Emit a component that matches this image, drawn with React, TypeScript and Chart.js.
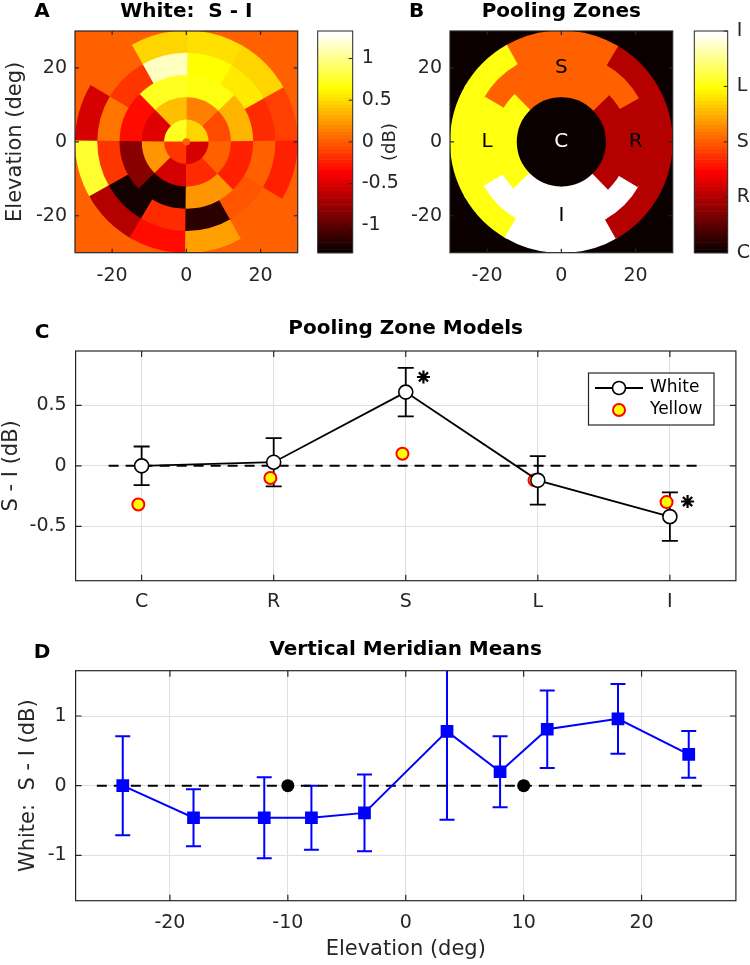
import React, { useEffect, useRef } from 'react';
import { Chart, registerables } from 'chart.js';

Chart.register(...registerables);

// ================= DATA =================
// Panel A: White S - I (dB) on a polar grid. Rings from centre outward,
// sectors counter-clockwise starting at +x (right).
const ringEdgesDeg = [0, 1, 6, 12, 18, 24, 30];
const whiteRing0 = [0.03];
const whiteRing1 = [0.47, 0.73, -0.13, -0.53];
const whiteRing2 = [-0.07, 0.13, 0.4, -0.46, 0.21, -0.5, -0.2, 0.0];
const whiteRing3 = [0.35, 0.7, 0.73, -0.33, -0.8, -1.27, 0.21, -0.23];
const whiteRing4 = [-0.2, 0.56, 0.66, 1.13, -0.13, 0.09, -0.13, -1.27, -0.2, -1.2, -0.02, 0.0];
const whiteRing5 = [-0.12, 0.47, 0.54, 0.49, 0.04, -0.53, 0.75, -0.66, -0.3, 0.29, 0.01, -0.22];
const whiteRings = [whiteRing0, whiteRing1, whiteRing2, whiteRing3, whiteRing4, whiteRing5];
const colorLimitsA = [-1.33, 1.33];
const colorbarTicksA = [-1, -0.5, 0, 0.5, 1];
const fieldTicks = [-20, 0, 20];
const fieldLimits = [-30, 30];

// Panel B: pooling zones (1=C, 2=R, 3=S, 4=L, 5=I)
const zoneNames = ['C', 'R', 'S', 'L', 'I'];
const zoneRing0 = [1];
const zoneRing1 = [1, 1, 1, 1];
const zoneRing2 = [1, 1, 1, 1, 1, 1, 1, 1];
const zoneRing3 = [2, 3, 3, 4, 4, 5, 5, 2];
const zoneRing4 = [2, 3, 3, 3, 3, 4, 4, 5, 5, 5, 5, 2];
const zoneRing5 = [2, 2, 3, 3, 4, 4, 4, 4, 5, 5, 2, 2];
const zoneRings = [zoneRing0, zoneRing1, zoneRing2, zoneRing3, zoneRing4, zoneRing5];
const zoneLabelX = [0, 20, 0, -20, 0];
const zoneLabelY = [0, 0, 20, 0, -20];
const zoneTicks = [1, 2, 3, 4, 5];

// Panel C: pooling zone models
const poolCategories = ['C', 'R', 'S', 'L', 'I'];
const whiteMeans = [0.0, 0.03, 0.61, -0.12, -0.42];
const whiteErrors = [0.16, 0.2, 0.2, 0.2, 0.2];
const yellowMeans = [-0.32, -0.1, 0.1, -0.12, -0.3];
const yellowXShift = -0.025;
const significantIdx = [2, 4];
const poolYTicks = [-0.5, 0, 0.5];
const poolYLimits = [-0.95, 0.95];
const poolZeroLine = [0.75, 5.25];

// Panel D: vertical meridian means
const meridianElev = [-24, -18, -12, -8, -3.5, 3.5, 8, 12, 18, 24];
const meridianMeans = [0.0, -0.46, -0.46, -0.46, -0.39, 0.78, 0.2, 0.81, 0.96, 0.45];
const meridianErrors = [0.71, 0.41, 0.58, 0.46, 0.55, 1.27, 0.51, 0.555, 0.5, 0.335];
const referenceElev = [-10, 10];
const referenceVal = [0, 0];
const elevTicks = [-20, -10, 0, 10, 20];
const meridianYTicks = [-1, 0, 1];
const elevLimits = [-28, 28];
const meridianYLimits = [-1.65, 1.65];
const meridianZeroLine = [-26.2, 25.6];

// ================= HELPERS =================
const FONT = "'DejaVu Sans', 'Liberation Sans', Arial, sans-serif";
const INK = '#262626';
const GRID = '#dfdfdf';

function hotColor(t: number): string {
  const m = 64, n = 24;
  let i = Math.floor(t * m) + 1;
  if (i < 1) i = 1;
  if (i > m) i = m;
  const r = i <= n ? i / n : 1;
  const g = i <= n ? 0 : i <= 2 * n ? (i - n) / n : 1;
  const b = i <= 2 * n ? 0 : (i - 2 * n) / (m - 2 * n);
  return `rgb(${Math.round(r * 255)},${Math.round(g * 255)},${Math.round(b * 255)})`;
}
const mapColor = (v: number, lo: number, hi: number) => hotColor((v - lo) / (hi - lo));

const setTicks = (vals: number[]) => (s: any) => {
  s.ticks = vals.map((v) => ({ value: v }));
};

type TextItem = {
  text: string; x: number; y: number; size: number; bold?: boolean;
  color?: string; rot?: number; align?: CanvasTextAlign;
};
function textsPlugin(items: TextItem[]) {
  return {
    id: 'texts',
    afterDraw(chart: any) {
      const ctx = chart.ctx;
      for (const t of items) {
        ctx.save();
        ctx.translate(t.x, t.y);
        if (t.rot) ctx.rotate(t.rot);
        ctx.font = `${t.bold ? 'bold ' : ''}${t.size}px ${FONT}`;
        ctx.fillStyle = t.color || '#000';
        ctx.textAlign = t.align || 'center';
        ctx.textBaseline = 'middle';
        ctx.fillText(t.text, 0, 0);
        ctx.restore();
      }
    },
  };
}

function framePlugin(xt: number[], yt: number[], len: number, sides = { left: true, right: true, top: true, bottom: true }, lw = 1.2) {
  return {
    id: 'frame',
    afterDraw(chart: any) {
      const { ctx, chartArea: a, scales } = chart;
      ctx.save();
      ctx.strokeStyle = INK;
      ctx.lineWidth = lw;
      ctx.beginPath();
      for (const v of xt) {
        const p = scales.x.getPixelForValue(v);
        if (sides.bottom) { ctx.moveTo(p, a.bottom); ctx.lineTo(p, a.bottom - len); }
        if (sides.top) { ctx.moveTo(p, a.top); ctx.lineTo(p, a.top + len); }
      }
      for (const v of yt) {
        const p = scales.y.getPixelForValue(v);
        if (sides.left) { ctx.moveTo(a.left, p); ctx.lineTo(a.left + len, p); }
        if (sides.right) { ctx.moveTo(a.right, p); ctx.lineTo(a.right - len, p); }
      }
      ctx.stroke();
      ctx.strokeRect(a.left, a.top, a.right - a.left, a.bottom - a.top);
      ctx.restore();
    },
  };
}

// Polar cells: painted from the outermost ring inward as overlapping pie wedges,
// so that neighbouring cells leave no anti-aliasing seams.
function polarPlugin(rings: number[][], colorOf: (v: number) => string, bg: string) {
  return {
    id: 'polarCells',
    beforeDatasetsDraw(chart: any) {
      const { ctx, chartArea: a, scales: { x, y } } = chart;
      ctx.save();
      ctx.beginPath();
      ctx.rect(a.left, a.top, a.right - a.left, a.bottom - a.top);
      ctx.clip();
      ctx.fillStyle = bg;
      ctx.fillRect(a.left, a.top, a.right - a.left, a.bottom - a.top);
      const cx = x.getPixelForValue(0);
      const cy = y.getPixelForValue(0);
      const eps = 0.012;
      for (let k = rings.length - 1; k >= 0; k--) {
        const vals = rings[k];
        const r1 = x.getPixelForValue(ringEdgesDeg[k + 1]) - cx;
        const n = vals.length;
        vals.forEach((v, j) => {
          ctx.beginPath();
          if (n === 1) {
            ctx.arc(cx, cy, r1, 0, Math.PI * 2);
          } else {
            const a0 = (j * 2 * Math.PI) / n - eps;
            const a1 = ((j + 1) * 2 * Math.PI) / n + eps;
            ctx.moveTo(cx, cy);
            ctx.arc(cx, cy, r1, -a0, -a1, true);
            ctx.closePath();
          }
          ctx.fillStyle = colorOf(v);
          ctx.fill();
        });
      }
      ctx.restore();
    },
  };
}

function colorbarPlugin(lo: number, hi: number) {
  return {
    id: 'colorbar',
    beforeDatasetsDraw(chart: any) {
      const { ctx, chartArea: a, scales: { y } } = chart;
      ctx.save();
      for (let i = 0; i < 64; i++) {
        const v0 = lo + ((hi - lo) * i) / 64;
        const v1 = lo + ((hi - lo) * (i + 1)) / 64;
        const p0 = y.getPixelForValue(v0);
        const p1 = y.getPixelForValue(v1);
        ctx.fillStyle = hotColor((i + 0.5) / 64);
        ctx.fillRect(a.left, p1, a.right - a.left, p0 - p1 + 0.6);
      }
      ctx.restore();
    },
  };
}

function errorBarPlugin(xs: number[], ys: number[], errs: number[], color: string, cap: number, lw: number) {
  return {
    id: 'errorBars',
    beforeDatasetsDraw(chart: any) {
      const { ctx, chartArea: a, scales: { x, y } } = chart;
      ctx.save();
      ctx.beginPath();
      ctx.rect(a.left, a.top, a.right - a.left, a.bottom - a.top);
      ctx.clip();
      ctx.strokeStyle = color;
      ctx.lineWidth = lw;
      ctx.beginPath();
      xs.forEach((xv, i) => {
        const px = x.getPixelForValue(xv);
        const top = y.getPixelForValue(ys[i] + errs[i]);
        const bot = y.getPixelForValue(ys[i] - errs[i]);
        ctx.moveTo(px, top); ctx.lineTo(px, bot);
        ctx.moveTo(px - cap, top); ctx.lineTo(px + cap, top);
        ctx.moveTo(px - cap, bot); ctx.lineTo(px + cap, bot);
      });
      ctx.stroke();
      ctx.restore();
    },
  };
}

type Area = { left: number; top: number; right: number; bottom: number };

function axisFont(size: number, lineHeight = 1.2) {
  return { family: FONT, size, lineHeight };
}

const noGrid = { display: false, drawTicks: false };

function baseOptions(W: number, H: number, area: Area) {
  return {
    responsive: false,
    animation: false,
    events: [],
    layout: { autoPadding: false, padding: { left: 0, top: area.top, right: W - area.right, bottom: 0 } },
    plugins: { legend: { display: false }, title: { display: false }, tooltip: { enabled: false } },
  };
}

function fieldConfig(W: number, H: number, area: Area, rings: number[][], colorOf: (v: number) => string, bg: string, yTitle: string | null, extra: any[]) {
  return {
    type: 'scatter',
    data: { datasets: [] },
    options: {
      ...baseOptions(W, H, area),
      scales: {
        x: {
          type: 'linear', min: fieldLimits[0], max: fieldLimits[1],
          afterBuildTicks: setTicks(fieldTicks),
          afterFit: (s: any) => { s.height = H - area.bottom; },
          grid: noGrid, border: { display: false },
          ticks: { font: axisFont(19), color: INK, padding: 11.5, maxRotation: 0, autoSkip: false, callback: (v: any) => String(v) },
        },
        y: {
          type: 'linear', min: fieldLimits[0], max: fieldLimits[1],
          afterBuildTicks: setTicks(fieldTicks),
          afterFit: (s: any) => { s.width = area.left; },
          grid: noGrid, border: { display: false },
          ticks: { font: axisFont(19), color: INK, padding: 8, autoSkip: false, callback: (v: any) => String(v) },
          title: yTitle
            ? { display: true, text: yTitle, font: axisFont(21), color: INK, padding: { top: 3, bottom: 0 } }
            : { display: false },
        },
      },
    },
    plugins: [polarPlugin(rings, colorOf, bg), framePlugin(fieldTicks, fieldTicks, 4), ...extra],
  };
}

function colorbarConfig(W: number, H: number, area: Area, lo: number, hi: number, ticks: number[], fmt: (v: number) => string, pad: number, extra: any[]) {
  return {
    type: 'scatter',
    data: { datasets: [] },
    options: {
      responsive: false,
      animation: false,
      events: [],
      layout: { autoPadding: false, padding: { left: area.left, top: area.top, right: 0, bottom: H - area.bottom } },
      plugins: { legend: { display: false }, tooltip: { enabled: false } },
      scales: {
        x: { type: 'linear', display: false, min: 0, max: 1 },
        y: {
          type: 'linear', position: 'right', min: lo, max: hi,
          afterBuildTicks: setTicks(ticks),
          afterFit: (s: any) => { s.width = W - area.right; },
          grid: noGrid, border: { display: false },
          ticks: { font: axisFont(19), color: INK, padding: pad, autoSkip: false, callback: (v: any) => fmt(v) },
        },
      },
    },
    plugins: [colorbarPlugin(lo, hi), framePlugin([], ticks, 4, { left: false, right: true, top: false, bottom: false }, 1), ...extra],
  };
}

// ================= PANELS =================
const areaA: Area = { left: 75, top: 31, right: 297.7, bottom: 252.7 };
function buildA(W: number, H: number) {
  return fieldConfig(
    W, H, areaA, whiteRings,
    (v) => mapColor(v, colorLimitsA[0], colorLimitsA[1]),
    mapColor(0, colorLimitsA[0], colorLimitsA[1]),
    'Elevation (deg)',
    [textsPlugin([
      { text: 'A', x: 42, y: 12, size: 20, bold: true },
      { text: 'White:  S - I', x: 186.3, y: 12, size: 20, bold: true },
    ])],
  );
}

const areaCbarA: Area = { left: 17.7, top: 31, right: 52.7, bottom: 252.7 };
function buildCbarA(W: number, H: number) {
  return colorbarConfig(
    W, H, areaCbarA, colorLimitsA[0], colorLimitsA[1], colorbarTicksA, (v) => String(v), 9,
    [textsPlugin([{ text: '(dB)', x: 90, y: 142, size: 18, rot: -Math.PI / 2, color: INK }])],
  );
}

const zoneLabelPlugin = {
  id: 'zoneLabels',
  afterDatasetsDraw(chart: any) {
    const { ctx, scales: { x, y } } = chart;
    ctx.save();
    ctx.font = `20px ${FONT}`;
    ctx.textAlign = 'center';
    ctx.textBaseline = 'middle';
    zoneNames.forEach((name, i) => {
      ctx.fillStyle = name === 'C' ? '#ffffff' : '#000000';
      ctx.fillText(name, x.getPixelForValue(zoneLabelX[i]), y.getPixelForValue(zoneLabelY[i]));
    });
    ctx.restore();
  },
};

const areaB: Area = { left: 75, top: 31, right: 297.7, bottom: 252.7 };
function buildB(W: number, H: number) {
  return fieldConfig(
    W, H, areaB, zoneRings,
    (v) => mapColor(v, 1, 5),
    mapColor(1, 1, 5),
    null,
    [zoneLabelPlugin, textsPlugin([
      { text: 'B', x: 41.7, y: 12, size: 20, bold: true },
      { text: 'Pooling Zones', x: 186.3, y: 12, size: 20, bold: true },
    ])],
  );
}

const areaCbarB: Area = { left: 19.3, top: 31, right: 52.7, bottom: 252.7 };
function buildCbarB(W: number, H: number) {
  return colorbarConfig(W, H, areaCbarB, 1, 5, zoneTicks, (v) => zoneNames[Math.round(v) - 1], 9, []);
}

const asteriskPlugin = {
  id: 'asterisks',
  afterDatasetsDraw(chart: any) {
    const { ctx, scales: { x, y } } = chart;
    ctx.save();
    ctx.strokeStyle = '#000';
    ctx.lineWidth = 2.2;
    ctx.lineCap = 'butt';
    significantIdx.forEach((i) => {
      const px = x.getPixelForValue(i + 1 + 0.134);
      const py = y.getPixelForValue(whiteMeans[i] + 0.125);
      const L = 6.5;
      ctx.beginPath();
      for (let k = 0; k < 4; k++) {
        const ang = (k * Math.PI) / 4;
        ctx.moveTo(px - L * Math.cos(ang), py - L * Math.sin(ang));
        ctx.lineTo(px + L * Math.cos(ang), py + L * Math.sin(ang));
      }
      ctx.stroke();
    });
    ctx.restore();
  },
};

const legendCPlugin = {
  id: 'legendC',
  afterDatasetsDraw(chart: any) {
    const ctx = chart.ctx;
    const bx = 588.5, by = 73, bw = 125.5, bh = 52;
    ctx.save();
    ctx.fillStyle = '#fff';
    ctx.fillRect(bx, by, bw, bh);
    ctx.strokeStyle = INK;
    ctx.lineWidth = 1.2;
    ctx.strokeRect(bx, by, bw, bh);
    // White entry
    ctx.strokeStyle = '#000';
    ctx.lineWidth = 1.8;
    ctx.beginPath();
    ctx.moveTo(595, 88); ctx.lineTo(643, 88);
    ctx.stroke();
    ctx.beginPath();
    ctx.arc(619, 88, 6.5, 0, Math.PI * 2);
    ctx.fillStyle = '#fff';
    ctx.fill();
    ctx.lineWidth = 1.6;
    ctx.stroke();
    // Yellow entry
    ctx.beginPath();
    ctx.arc(619, 110, 6, 0, Math.PI * 2);
    ctx.fillStyle = '#ffff00';
    ctx.fill();
    ctx.strokeStyle = '#ff0000';
    ctx.lineWidth = 2;
    ctx.stroke();
    ctx.fillStyle = '#000';
    ctx.font = `17px ${FONT}`;
    ctx.textAlign = 'left';
    ctx.textBaseline = 'middle';
    ctx.fillText('White', 650, 88);
    ctx.fillText('Yellow', 650, 110);
    ctx.restore();
  },
};

const areaC: Area = { left: 75.6, top: 51, right: 735.9, bottom: 280.7 };
function buildC(W: number, H: number) {
  const catTicks = poolCategories.map((_, i) => i + 1);
  return {
    type: 'scatter',
    data: {
      datasets: [
        {
          label: 'White',
          data: whiteMeans.map((v, i) => ({ x: i + 1, y: v })),
          showLine: true, borderColor: '#000', borderWidth: 1.8,
          pointRadius: 7, pointBackgroundColor: '#fff', pointBorderColor: '#000', pointBorderWidth: 1.6,
          order: 1,
        },
        {
          label: 'Yellow',
          data: yellowMeans.map((v, i) => ({ x: i + 1 + yellowXShift, y: v })),
          showLine: false,
          pointRadius: 6, pointBackgroundColor: '#ffff00', pointBorderColor: '#ff0000', pointBorderWidth: 2,
          order: 2,
        },
        {
          label: 'zero',
          data: poolZeroLine.map((xv) => ({ x: xv, y: 0 })),
          showLine: true, borderColor: '#000', borderWidth: 2, borderDash: [10, 7], pointRadius: 0,
          order: 3,
        },
      ],
    },
    options: {
      ...baseOptions(W, H, areaC),
      scales: {
        x: {
          type: 'linear', min: 0.5, max: 5.5,
          afterBuildTicks: setTicks(catTicks),
          afterFit: (s: any) => { s.height = H - areaC.bottom; },
          grid: { display: true, color: GRID, lineWidth: 1, drawTicks: false }, border: { display: false },
          ticks: { font: axisFont(19), color: INK, padding: 9.6, maxRotation: 0, autoSkip: false, callback: (v: any) => poolCategories[Math.round(v) - 1] },
        },
        y: {
          type: 'linear', min: poolYLimits[0], max: poolYLimits[1],
          afterBuildTicks: setTicks(poolYTicks),
          afterFit: (s: any) => { s.width = areaC.left; },
          grid: { display: true, color: GRID, lineWidth: 1, drawTicks: false }, border: { display: false },
          ticks: { font: axisFont(19), color: INK, padding: 9, autoSkip: false, callback: (v: any) => String(v) },
          title: { display: true, text: 'S - I (dB)', font: axisFont(21, 1.1), color: INK, padding: { top: 0, bottom: 0 } },
        },
      },
    },
    plugins: [
      errorBarPlugin(whiteMeans.map((_, i) => i + 1), whiteMeans, whiteErrors, '#000', 8, 1.8),
      asteriskPlugin,
      legendCPlugin,
      framePlugin(catTicks, poolYTicks, 6),
      textsPlugin([
        { text: 'C', x: 42, y: 33, size: 20, bold: true },
        { text: 'Pooling Zone Models', x: 405.7, y: 29, size: 20, bold: true },
      ]),
    ],
  };
}

const areaD: Area = { left: 75.6, top: 50.7, right: 735.9, bottom: 280.7 };
function buildD(W: number, H: number) {
  return {
    type: 'scatter',
    data: {
      datasets: [
        {
          label: 'Meridian',
          data: meridianMeans.map((v, i) => ({ x: meridianElev[i], y: v })),
          showLine: true, borderColor: '#0000ff', borderWidth: 2,
          pointStyle: 'rect', pointRadius: 9, pointBackgroundColor: '#0000ff', pointBorderColor: '#0000ff', pointBorderWidth: 0,
          order: 1,
        },
        {
          label: 'Reference',
          data: referenceVal.map((v, i) => ({ x: referenceElev[i], y: v })),
          showLine: false,
          pointRadius: 6.5, pointBackgroundColor: '#000', pointBorderColor: '#000', pointBorderWidth: 0,
          order: 2,
        },
        {
          label: 'zero',
          data: meridianZeroLine.map((xv) => ({ x: xv, y: 0 })),
          showLine: true, borderColor: '#000', borderWidth: 2, borderDash: [10, 7], pointRadius: 0,
          order: 3,
        },
      ],
    },
    options: {
      ...baseOptions(W, H, areaD),
      scales: {
        x: {
          type: 'linear', min: elevLimits[0], max: elevLimits[1],
          afterBuildTicks: setTicks(elevTicks),
          afterFit: (s: any) => { s.height = H - areaD.bottom; },
          grid: { display: true, color: GRID, lineWidth: 1, drawTicks: false }, border: { display: false },
          ticks: { font: axisFont(19), color: INK, padding: 10.9, maxRotation: 0, autoSkip: false, callback: (v: any) => String(v) },
          title: { display: true, text: 'Elevation (deg)', font: axisFont(21), color: INK, padding: { top: 0, bottom: 2.4 } },
        },
        y: {
          type: 'linear', min: meridianYLimits[0], max: meridianYLimits[1],
          afterBuildTicks: setTicks(meridianYTicks),
          afterFit: (s: any) => { s.width = areaD.left; },
          grid: { display: true, color: GRID, lineWidth: 1, drawTicks: false }, border: { display: false },
          ticks: { font: axisFont(19), color: INK, padding: 9, autoSkip: false, callback: (v: any) => String(v) },
          title: { display: true, text: 'White:  S - I (dB)', font: axisFont(21), color: INK, padding: { top: 16.4, bottom: 0 } },
        },
      },
    },
    plugins: [
      errorBarPlugin(meridianElev, meridianMeans, meridianErrors, '#0000ff', 7.5, 2),
      framePlugin(elevTicks, meridianYTicks, 6),
      textsPlugin([
        { text: 'D', x: 42, y: 33, size: 20, bold: true },
        { text: 'Vertical Meridian Means', x: 405.7, y: 30, size: 20, bold: true },
      ]),
    ],
  };
}

// ================= COMPONENTS =================
function Panel(props: { left: number; top: number; width: number; height: number; build: (w: number, h: number) => any }) {
  const ref = useRef<HTMLCanvasElement | null>(null);
  useEffect(() => {
    if (!ref.current) return;
    const chart = new Chart(ref.current, props.build(props.width, props.height));
    return () => chart.destroy();
  }, []);
  return (
    <canvas
      ref={ref}
      width={props.width}
      height={props.height}
      style={{ position: 'absolute', left: props.left, top: props.top, width: props.width, height: props.height }}
    />
  );
}

export default function App() {
  return (
    <div style={{ position: 'absolute', left: 0, top: 0, width: 750, height: 965, background: '#ffffff', overflow: 'hidden' }}>
      <Panel left={0} top={0} width={375} height={300} build={buildA} />
      <Panel left={300} top={0} width={110} height={300} build={buildCbarA} />
      <Panel left={375} top={0} width={320} height={300} build={buildB} />
      <Panel left={675} top={0} width={75} height={300} build={buildCbarB} />
      <Panel left={0} top={300} width={750} height={320} build={buildC} />
      <Panel left={0} top={620} width={750} height={345} build={buildD} />
    </div>
  );
}
